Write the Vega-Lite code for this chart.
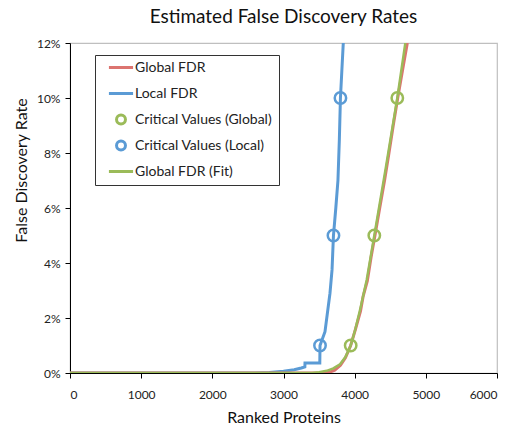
{
  "$schema": "https://vega.github.io/schema/vega-lite/v6.json",
  "width": 427,
  "height": 330,
  "autosize": {"type": "none"},
  "padding": {"left": 70, "top": 43, "right": 17, "bottom": 60},
  "background": "white",
  "title": {"text": "Estimated False Discovery Rates", "font": "Lato", "fontSize": 19, "fontWeight": "normal", "color": "#111", "offset": 10, "anchor": "middle"},
  "config": {
    "view": {"stroke": "#bfbfbf", "strokeWidth": 1.2},
    "axis": {"grid": false, "domainColor": "#000", "tickColor": "#000", "tickSize": 5, "labelFont": "Lato", "labelFontSize": 12, "labelColor": "#222", "titleFont": "Lato", "titleFontSize": 16, "titleFontWeight": "normal", "titleColor": "#111"}
  },
  "datasets": {
    "local": [
      {"series": "Local FDR", "rank": 0, "fdr": 0},
      {"series": "Local FDR", "rank": 2600, "fdr": 0},
      {"series": "Local FDR", "rank": 2800, "fdr": 0.0002},
      {"series": "Local FDR", "rank": 3000, "fdr": 0.0006},
      {"series": "Local FDR", "rank": 3150, "fdr": 0.0012},
      {"series": "Local FDR", "rank": 3250, "fdr": 0.0018},
      {"series": "Local FDR", "rank": 3300, "fdr": 0.0022},
      {"series": "Local FDR", "rank": 3302, "fdr": 0.0036},
      {"series": "Local FDR", "rank": 3510, "fdr": 0.0036},
      {"series": "Local FDR", "rank": 3513, "fdr": 0.01},
      {"series": "Local FDR", "rank": 3583, "fdr": 0.015},
      {"series": "Local FDR", "rank": 3653, "fdr": 0.029},
      {"series": "Local FDR", "rank": 3682, "fdr": 0.0375},
      {"series": "Local FDR", "rank": 3702, "fdr": 0.05},
      {"series": "Local FDR", "rank": 3735, "fdr": 0.06},
      {"series": "Local FDR", "rank": 3765, "fdr": 0.07},
      {"series": "Local FDR", "rank": 3785, "fdr": 0.085},
      {"series": "Local FDR", "rank": 3800, "fdr": 0.1},
      {"series": "Local FDR", "rank": 3820, "fdr": 0.11},
      {"series": "Local FDR", "rank": 3840, "fdr": 0.12}
    ],
    "global": [
      {"series": "Global FDR", "rank": 0, "fdr": 0},
      {"series": "Global FDR", "rank": 3580, "fdr": 0},
      {"series": "Global FDR", "rank": 3650, "fdr": 0.0003},
      {"series": "Global FDR", "rank": 3720, "fdr": 0.001},
      {"series": "Global FDR", "rank": 3800, "fdr": 0.0028},
      {"series": "Global FDR", "rank": 3870, "fdr": 0.0055},
      {"series": "Global FDR", "rank": 3944, "fdr": 0.01},
      {"series": "Global FDR", "rank": 4010, "fdr": 0.0158},
      {"series": "Global FDR", "rank": 4082, "fdr": 0.0225},
      {"series": "Global FDR", "rank": 4120, "fdr": 0.028},
      {"series": "Global FDR", "rank": 4178, "fdr": 0.0335},
      {"series": "Global FDR", "rank": 4230, "fdr": 0.042},
      {"series": "Global FDR", "rank": 4285, "fdr": 0.05},
      {"series": "Global FDR", "rank": 4352, "fdr": 0.06},
      {"series": "Global FDR", "rank": 4420, "fdr": 0.07},
      {"series": "Global FDR", "rank": 4482, "fdr": 0.08},
      {"series": "Global FDR", "rank": 4542, "fdr": 0.09},
      {"series": "Global FDR", "rank": 4605, "fdr": 0.1},
      {"series": "Global FDR", "rank": 4672, "fdr": 0.11},
      {"series": "Global FDR", "rank": 4740, "fdr": 0.12}
    ],
    "fit": [
      {"series": "Global FDR (Fit)", "rank": 0, "fdr": 0},
      {"series": "Global FDR (Fit)", "rank": 3400, "fdr": 0},
      {"series": "Global FDR (Fit)", "rank": 3500, "fdr": 0.0003},
      {"series": "Global FDR (Fit)", "rank": 3607, "fdr": 0.0008},
      {"series": "Global FDR (Fit)", "rank": 3700, "fdr": 0.0017},
      {"series": "Global FDR (Fit)", "rank": 3794, "fdr": 0.0032},
      {"series": "Global FDR (Fit)", "rank": 3870, "fdr": 0.0058},
      {"series": "Global FDR (Fit)", "rank": 3944, "fdr": 0.01},
      {"series": "Global FDR (Fit)", "rank": 4010, "fdr": 0.016},
      {"series": "Global FDR (Fit)", "rank": 4075, "fdr": 0.0229},
      {"series": "Global FDR (Fit)", "rank": 4169, "fdr": 0.0338},
      {"series": "Global FDR (Fit)", "rank": 4276, "fdr": 0.05},
      {"series": "Global FDR (Fit)", "rank": 4440, "fdr": 0.075},
      {"series": "Global FDR (Fit)", "rank": 4599, "fdr": 0.1},
      {"series": "Global FDR (Fit)", "rank": 4712, "fdr": 0.12}
    ],
    "crit": [
      {"series": "Critical Values (Global)", "rank": 3944, "fdr": 0.01},
      {"series": "Critical Values (Global)", "rank": 4276, "fdr": 0.05},
      {"series": "Critical Values (Global)", "rank": 4599, "fdr": 0.1},
      {"series": "Critical Values (Local)", "rank": 3513, "fdr": 0.01},
      {"series": "Critical Values (Local)", "rank": 3702, "fdr": 0.05},
      {"series": "Critical Values (Local)", "rank": 3800, "fdr": 0.1}
    ]
  },
  "encoding": {
    "x": {"field": "rank", "type": "quantitative", "title": "Ranked Proteins", "scale": {"domain": [0, 6000], "nice": false}, "axis": {"values": [0, 1000, 2000, 3000, 4000, 5000, 6000], "format": "d", "labelPadding": 11, "titlePadding": 9}},
    "y": {"field": "fdr", "type": "quantitative", "title": "False Discovery Rate", "scale": {"domain": [0, 0.12], "nice": false}, "axis": {"values": [0, 0.02, 0.04, 0.06, 0.08, 0.1, 0.12], "format": ".0%", "labelPadding": 5, "titleX": -49, "titleY": 127, "titleBaseline": "middle"}},
    "color": {
      "field": "series", "type": "nominal",
      "scale": {"domain": ["Global FDR", "Local FDR", "Critical Values (Global)", "Critical Values (Local)", "Global FDR (Fit)"], "range": ["#dc7470", "#5b9bd5", "#9bbb59", "#5b9bd5", "#9bbb59"]},
      "legend": {
        "orient": "none", "legendX": 25, "legendY": 12, "title": null,
        "strokeColor": "#333", "fillColor": "white", "padding": 6, "clipHeight": 13,
        "symbolSize": 80, "symbolStrokeWidth": 3, "symbolOffset": 13, "labelOffset": 7,
        "labelFont": "Lato", "labelFontSize": 14, "labelColor": "#222", "rowPadding": 11
      }
    }
  },
  "layer": [
    {"data": {"name": "local"}, "mark": {"type": "line", "strokeWidth": 3, "clip": true}},
    {"data": {"name": "global"}, "mark": {"type": "line", "strokeWidth": 3, "clip": true}},
    {"data": {"name": "fit"}, "mark": {"type": "line", "strokeWidth": 2.5, "clip": true}},
    {"data": {"name": "crit"}, "mark": {"type": "point", "filled": false, "strokeWidth": 2.5, "size": 130, "opacity": 1},
     "encoding": {"shape": {"field": "series", "type": "nominal",
       "scale": {"domain": ["Global FDR", "Local FDR", "Critical Values (Global)", "Critical Values (Local)", "Global FDR (Fit)"], "range": ["M-2.7,0H2.7", "M-2.7,0H2.7", "circle", "circle", "M-2.7,0H2.7"]},
       "legend": {
        "orient": "none", "legendX": 25, "legendY": 12, "title": null,
        "strokeColor": "#333", "fillColor": "white", "padding": 6, "clipHeight": 13,
        "symbolSize": 80, "symbolStrokeWidth": 3, "symbolOffset": 13, "labelOffset": 7,
        "labelFont": "Lato", "labelFontSize": 14, "labelColor": "#222", "rowPadding": 11
       }}}}
  ]
}
